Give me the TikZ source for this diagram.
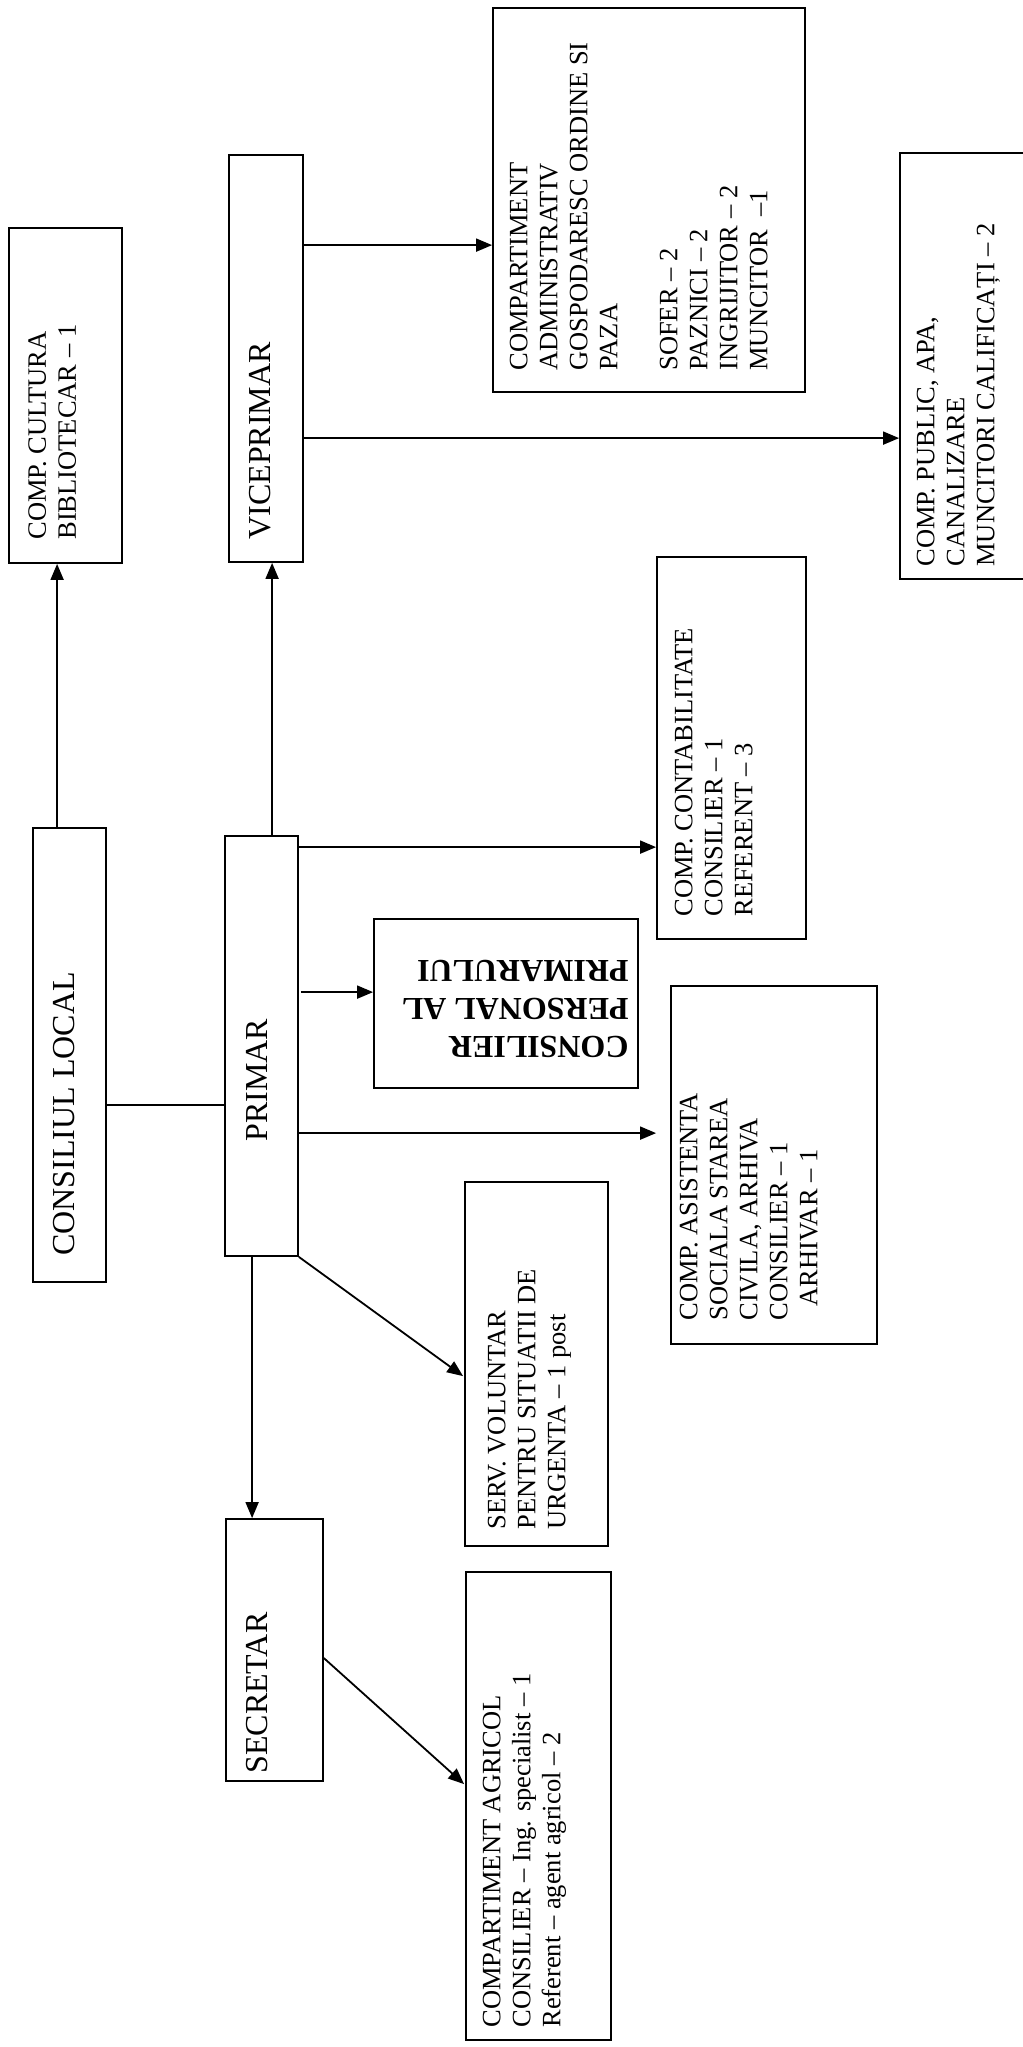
\documentclass[tikz,border=0pt]{standalone}
\usepackage{fontspec}
\setmainfont{Liberation Serif}
\usetikzlibrary{arrows.meta,fit,calc}
\newcommand\rtxt[1]{\rotatebox{90}{\begin{tabular}{@{}l@{}}#1\end{tabular}}}
\newcommand\utxt[1]{\rotatebox{180}{\begin{tabular}{@{}l@{}}#1\end{tabular}}}
\begin{document}
\begin{tikzpicture}[x=0.5pt,y=-0.5pt,
  box/.style={draw, line width=0.9pt, inner sep=0pt},
  lbl/.style={inner sep=0pt, anchor=south west},
  big/.style={font=\fontsize{16}{19}\selectfont},
  sml/.style={font=\fontsize{13.25}{15}\selectfont},
  bld/.style={font=\fontsize{16}{19}\selectfont\bfseries},
  arr/.style={-{Triangle[length=8pt,width=6.5pt]}, line width=0.9pt},
  ln/.style={line width=0.9pt}]
\useasboundingbox (0,0) rectangle (1023,2047);
% boxes
\node[box, fit={(9,228)(122,563)}] (cult) {};
\node[box, fit={(229,155)(303,562)}] (vice) {};
\node[box, fit={(493,8)(805,392)}] (admin) {};
\node[box, fit={(900,153)(1026,579)}] (public) {};
\node[box, fit={(33,828)(106,1282)}] (consiliul) {};
\node[box, fit={(225,836)(298,1256)}] (primar) {};
\node[box, fit={(374,919)(638,1088)}] (consp) {};
\node[box, fit={(657,557)(806,939)}] (contab) {};
\node[box, fit={(671,986)(877,1344)}] (asist) {};
\node[box, fit={(465,1182)(608,1546)}] (serv) {};
\node[box, fit={(226,1519)(323,1781)}] (secretar) {};
\node[box, fit={(466,1572)(611,2040)}] (agricol) {};
% texts
\node[lbl, sml] (cultT) at (24.5,540) {\rtxt{COMP. CULTURA\\BIBLIOTECAR – 1}};
\node[lbl, big] (viceT) at (243,540) {\rtxt{VICEPRIMAR}};
\node[lbl, sml] (adminT) at (506,371) {\rtxt{COMPARTIMENT\\ADMINISTRATIV\\GOSPODARESC ORDINE SI\\PAZA\\[15pt]SOFER – 2\\PAZNICI – 2\\INGRIJITOR – 2\\MUNCITOR~~–1}};
\node[lbl, sml] (publicT) at (913,567) {\rtxt{COMP. PUBLIC, APA,\\CANALIZARE\\MUNCITORI CALIFICAȚI – 2}};
\node[lbl, big] (consiliulT) at (48,1256) {\rtxt{CONSILIUL LOCAL}};
\node[lbl, big] (primarT) at (240,1142) {\rtxt{PRIMAR}};
\node[lbl, sml] (contabT) at (671,917) {\rtxt{COMP. CONTABILITATE\\CONSILIER – 1\\REFERENT – 3}};
\node[lbl, sml] (asistT) at (676,1321) {\rtxt{COMP. ASISTENTA\\SOCIALA STAREA\\CIVILA, ARHIVA\\CONSILIER – 1\\\hspace*{7pt}ARHIVAR – 1}};
\node[lbl, sml] (servT) at (484,1530) {\rtxt{SERV. VOLUNTAR\\PENTRU SITUATII DE\\URGENTA – 1 post}};
\node[lbl, big] (secretarT) at (240,1774) {\rtxt{SECRETAR}};
\node[lbl, sml] (agricolT) at (479,2028) {\rtxt{COMPARTIMENT AGRICOL\\CONSILIER – Ing. specialist – 1\\Referent – agent agricol – 2}};
\node[inner sep=0pt, anchor=south east, bld] (conspT) at (629,1063) {\utxt{CONSILIER\\PERSONAL AL\\PRIMARULUI}};
% connectors
\coordinate (a1) at ($(consiliul.north west)+(25,0)$);
\draw[arr] (a1) -- (cult.south -| a1);
\coordinate (a2) at ($(consiliul.south east)+(0,-178)$);
\draw[ln] (a2) -- (primar.west |- a2);
\coordinate (a3) at ($(primar.north west)+(48,0)$);
\draw[arr] (a3) -- (vice.south -| a3);
\coordinate (a4) at ($(vice.north east)+(0,91)$);
\draw[arr] (a4) -- (admin.west |- a4);
\coordinate (a5) at ($(vice.north east)+(0,284)$);
\draw[arr] (a5) -- (public.west |- a5);
\coordinate (a6) at ($(primar.north east)+(0,12)$);
\draw[arr] (a6) -- (contab.west |- a6);
\coordinate (a7) at ($(primar.north east)+(2,157)$);
\draw[arr] (a7) -- (consp.west |- a7);
\coordinate (a8) at ($(primar.north east)+(0,298)$);
\draw[arr, shorten >=7pt] (a8) -- (asist.west |- a8);
\coordinate (a9) at ($(serv.north west)+(-1,195)$);
\draw[arr] (primar.south east) -- (a9);
\coordinate (a10) at ($(primar.south west)+(28,0)$);
\draw[arr] (a10) -- (secretar.north -| a10);
\coordinate (a11) at ($(secretar.north east)+(0,140)$);
\coordinate (a12) at ($(agricol.north west)+(-1,213)$);
\draw[arr] (a11) -- (a12);
\end{tikzpicture}
\end{document}
